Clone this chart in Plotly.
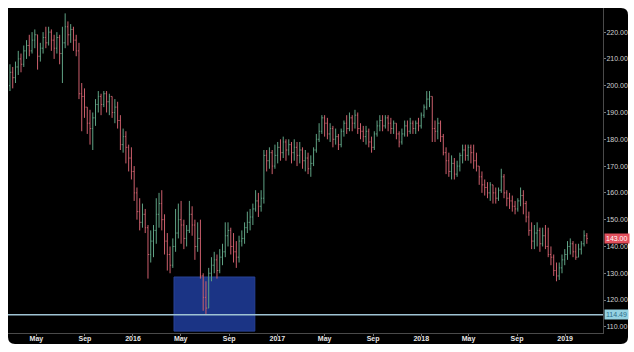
import plotly.graph_objects as go
import pandas as pd

start_week = "2015-02-23"

opens = [
200,205,203,207,210,208,213,215,213,217,
219,211,214,218,216,220,217,214,218,212,
216,222,219,221,217,213,197,196,192,186,
184,188,193,196,193,197,194,196,190,192,
187,178,181,177,173,168,160,153,149,152,
147,137,142,146,152,156,150,142,137,133,
140,145,150,148,143,146,152,148,140,143,
129,121,117,130,133,135,131,136,138,144,
146,140,138,136,142,143,147,149,151,154,
157,155,158,174,172,175,170,174,177,175,
179,176,178,175,177,174,176,172,173,169,
171,176,180,183,188,186,182,184,180,181,
178,183,186,184,188,186,189,184,183,181,
183,179,177,182,185,187,185,188,186,184,
186,182,179,182,185,183,186,184,186,185,
189,192,195,196,184,183,186,181,175,172,
168,171,167,170,174,176,174,177,175,172,
170,166,163,162,160,163,160,158,161,166,
160,158,157,155,154,157,159,156,151,146,
142,145,146,141,144,140,137,136,131,129,
132,135,137,140,141,138,136,139,141,144]

highs = [
208,207,209,213,212,215,217,219,220,221,
219,216,220,222,222,221,219,220,219,222,
227,224,223,222,219,216,201,199,192,191,
190,195,198,197,198,198,197,196,195,194,
189,184,183,178,177,170,162,158,156,154,
148,146,148,158,160,161,152,145,140,143,
154,156,157,150,148,157,155,150,149,150,
130,127,132,136,138,137,139,141,149,149,
147,145,142,144,146,149,153,154,156,161,
160,161,176,176,177,176,178,179,180,181,
180,180,179,180,179,179,177,176,175,174,
177,182,186,189,189,188,186,185,184,182,
184,187,189,190,189,191,190,186,185,185,
184,181,183,187,189,189,189,189,188,187,
186,183,184,187,187,188,187,187,188,190,
193,198,198,196,187,188,187,182,177,175,
174,173,172,175,178,178,178,178,178,175,
170,168,165,164,164,163,162,162,169,167,
161,160,159,157,158,162,161,157,153,149,
148,149,147,147,148,147,140,137,134,134,
137,139,142,143,142,141,141,142,146,145]

lows = [
198,199,201,204,205,207,210,211,212,214,
206,209,212,214,215,213,210,212,208,201,
214,215,216,213,211,195,183,188,182,178,
176,185,190,189,192,190,189,188,186,184,
176,175,171,168,165,157,150,146,147,145,
128,134,136,141,147,146,137,131,130,132,
138,143,141,139,140,145,144,135,138,128,
116,114.5,117,127,130,128,130,133,136,140,
137,134,132,134,140,141,145,146,148,153,
151,153,156,168,169,167,169,171,172,173,
172,174,171,172,170,171,169,168,167,166,
170,175,179,182,181,180,179,177,178,176,
177,181,182,183,183,184,182,180,179,178,
177,175,176,181,183,183,184,183,182,182,
180,177,178,181,181,182,182,182,183,184,
188,191,192,179,179,180,179,174,167,166,
165,165,166,168,171,172,172,171,169,168,
163,160,159,158,157,156,156,157,160,158,
155,154,153,152,153,155,152,149,144,139,
139,140,138,140,139,136,133,129,127,127.5,
130,133,135,137,136,135,136,137,140,141]

closes = [
205,203,207,210,208,213,215,213,217,219,
211,214,218,216,220,217,214,218,212,216,
222,219,221,217,213,197,196,192,186,184,
188,193,196,193,197,194,196,190,192,187,
178,181,177,173,168,160,153,149,152,147,
137,142,146,152,156,150,142,137,133,140,
145,150,148,143,146,152,148,140,143,129,
121,117,130,133,135,131,136,138,144,146,
140,138,136,142,143,147,149,151,154,157,
155,158,174,172,175,170,174,177,175,179,
176,178,175,177,174,176,172,173,169,171,
176,180,183,188,186,182,184,180,181,178,
183,186,184,188,186,189,184,183,181,183,
179,177,182,185,187,185,188,186,184,186,
182,179,182,185,183,186,184,186,185,189,
192,195,196,184,183,186,181,175,172,168,
171,167,170,174,176,174,177,175,172,170,
166,163,162,160,163,160,158,161,166,160,
158,157,155,154,157,159,156,151,146,142,
145,146,141,144,140,137,136,131,129,132,
135,137,140,141,138,136,139,141,144,143]

support_level = 114.49
last_price = 143.00
zone_dates = ["2016-04-14", "2016-11-05"]
zone_prices = [108.4, 128.6]

tick_dates = ["2015-05-01", "2015-09-01", "2016-01-01", "2016-05-01", "2016-09-01",
              "2017-01-01", "2017-05-01", "2017-09-01", "2018-01-01", "2018-05-01",
              "2018-09-01", "2019-01-01"]
tick_labels = ["May", "Sep", "2016", "May", "Sep", "2017", "May", "Sep", "2018",
               "May", "Sep", "2019"]

dates = pd.date_range(start_week, periods=len(closes), freq="7D")
hi = [max(h, o, c) for h, o, c in zip(highs, opens, closes)]
lo = [min(l, o, c) for l, o, c in zip(lows, opens, closes)]

fig = go.Figure(go.Ohlc(
    x=dates, open=opens, high=hi, low=lo, close=closes,
    increasing=dict(line=dict(color="#5fa284", width=1)),
    decreasing=dict(line=dict(color="#cc5f6c", width=1)),
    tickwidth=0.35, hoverinfo="skip", showlegend=False,
))

# rounded black panel
x0, x1 = 0.0, 620 / 595
y0, y1 = -11 / 325, 1.0
rx, ry = 7 / 595, 7 / 325
panel = (f"M {x0+rx},{y1} L {x1-rx},{y1} Q {x1},{y1} {x1},{y1-ry} "
         f"L {x1},{y0+ry} Q {x1},{y0} {x1-rx},{y0} L {x0+rx},{y0} "
         f"Q {x0},{y0} {x0},{y0+ry} L {x0},{y1-ry} Q {x0},{y1} {x0+rx},{y1} Z")

shapes = [
    dict(type="path", xref="paper", yref="paper", path=panel,
         fillcolor="black", line=dict(width=0), layer="below"),
    dict(type="rect", xref="x", yref="y", x0=zone_dates[0], x1=zone_dates[1],
         y0=zone_prices[0], y1=zone_prices[1], fillcolor="#1f3a94", opacity=0.9,
         line=dict(width=1, color="#2c4aa8"), layer="below"),
    dict(type="line", xref="paper", yref="y", x0=0, x1=1, y0=support_level, y1=support_level,
         line=dict(color="#9fc3d3", width=1.6), layer="above"),
]

annotations = [
    dict(xref="paper", yref="y", x=1, y=last_price, xanchor="left", yanchor="middle",
         text=f"{last_price:.2f}", showarrow=False, xshift=1,
         font=dict(family="Liberation Sans", size=7, color="#ffffff"),
         bgcolor="#e3505d", borderpad=1),
    dict(xref="paper", yref="y", x=1, y=support_level, xanchor="left", yanchor="middle",
         text=f"{support_level:.2f}", showarrow=False, xshift=1,
         font=dict(family="Liberation Sans", size=7, color="#2f6f8c"),
         bgcolor="#95d2e2", borderpad=1),
]

fig.update_layout(
    width=634, height=352,
    margin=dict(l=8, r=31, t=8, b=19, autoexpand=False),
    paper_bgcolor="white", plot_bgcolor="black",
    shapes=shapes, annotations=annotations,
    font=dict(family="Liberation Sans", size=7, color="#cfcfcf"),
    xaxis=dict(
        type="date", range=["2015-02-18", "2019-04-07"], automargin=False,
        rangeslider=dict(visible=False), showgrid=False, zeroline=False,
        showline=True, linecolor="#4a4a4a", linewidth=1,
        tickmode="array", tickvals=tick_dates,
        ticktext=[f"<b>{t}</b>" for t in tick_labels],
        ticks="outside", ticklen=2, tickcolor="#777", ticklabelstandoff=-3,
        tickfont=dict(family="Liberation Sans", size=7, color="#e6e6e6"),
    ),
    yaxis=dict(
        side="right", range=[107.7, 229], dtick=10, tick0=110, tickformat=".2f",
        automargin=False,
        showgrid=False, zeroline=False, showline=True, linecolor="#4a4a4a", linewidth=1,
        ticks="outside", ticklen=2, tickcolor="#777", ticklabelstandoff=-1,
        tickfont=dict(family="Liberation Sans", size=7, color="#d0d0d0"),
    ),
)

fig.write_html("out.html")
